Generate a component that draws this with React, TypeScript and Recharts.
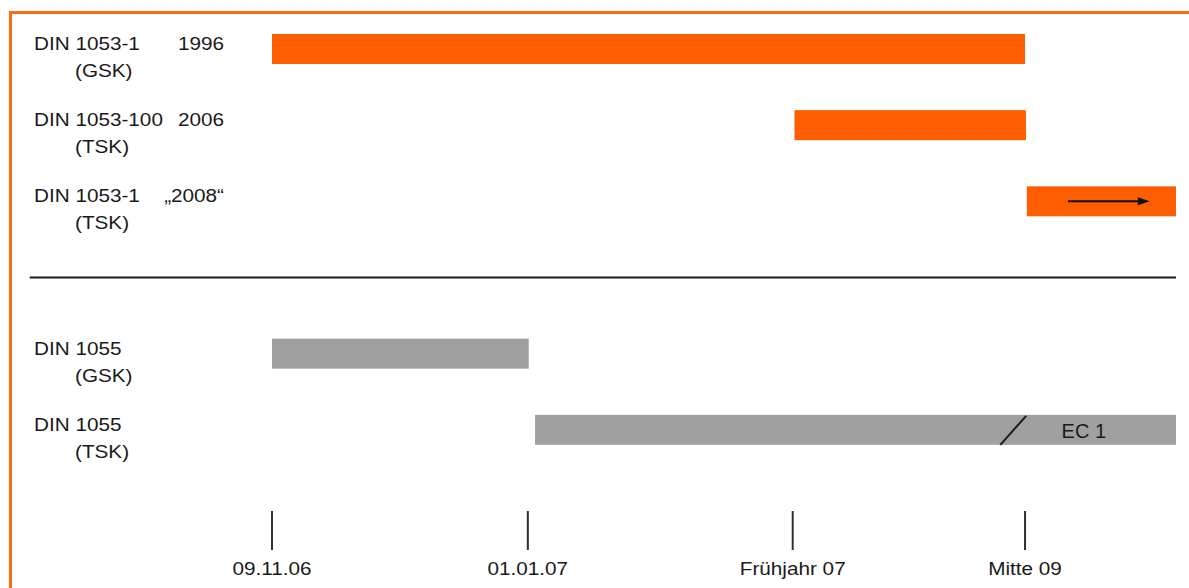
import { ComposedChart, Bar, Cell, XAxis, YAxis, ReferenceLine } from 'recharts';

// Zeitachse in relativen Einheiten (0 = 09.11.06, 100 = rechter Rand)
const ROWS = [
  'DIN 1053-1 (GSK)',
  'DIN 1053-100 (TSK)',
  'DIN 1053-1 (TSK)',
  'trenn',
  'DIN 1055 (GSK)',
  'DIN 1055 (TSK)',
];
const NORM = ['DIN 1053-1', 'DIN 1053-100', 'DIN 1053-1', '', 'DIN 1055', 'DIN 1055'];
const KONZEPT = ['(GSK)', '(TSK)', '(TSK)', '', '(GSK)', '(TSK)'];
const AUSGABE = ['1996', '2006', '\u201E2008\u201C', '', '', ''];
const FAMILIE = ['1053', '1053', '1053', '', '1055', '1055'];
const START = [0, 57.8, 83.5, null, 0, 29.1];
const ENDE = [83.3, 83.4, 100, null, 28.4, 100];

// Markierungen in den Balken
const PFEIL_VON = [null, null, 88.05, null, null, null];
const PFEIL_BIS = [null, null, 97.1, null, null, null];
const BRUCH = [null, null, null, null, null, 82.0];
const BRUCH_TEXT = ['', '', '', '', '', 'EC 1'];
const BRUCH_TEXT_POS = [null, null, null, null, null, 89.8];

const TICK_POS = [0, 28.3, 57.6, 83.3];
const TICK_LABELS = ['09.11.06', '01.01.07', 'Frühjahr 07', 'Mitte 09'];

const TRENN_VON = -26.8;

const COLORS: Record<string, string> = {
  '1053': '#ff5e00',
  '1055': '#a0a0a0',
  frame: '#ff6a14',
  text: '#1a1a1a',
  tick: '#303030',
};

const FONT = '"Liberation Sans", Arial, sans-serif';
const STRETCH = 1.12;

const data = ROWS.map((name, i) => ({
  name,
  range: START[i] == null ? null : [START[i], ENDE[i]],
  familie: FAMILIE[i],
  pfeilVon: PFEIL_VON[i],
  pfeilBis: PFEIL_BIS[i],
  bruch: BRUCH[i],
  bruchText: BRUCH_TEXT[i],
  bruchTextPos: BRUCH_TEXT_POS[i],
}));

function StretchText({ x, y, anchor, children, size = 18.5 }: any) {
  return (
    <g transform={`translate(${x},${y}) scale(${STRETCH},1)`}>
      <text x={0} y={0} textAnchor={anchor} fontSize={size} fontFamily={FONT} fill={COLORS.text}>
        {children}
      </text>
    </g>
  );
}

function RowTick(props: any) {
  const { x, y, payload } = props;
  const i = ROWS.indexOf(payload.value);
  if (i < 0 || !NORM[i]) return null;
  const left = x - 238;
  return (
    <g>
      <StretchText x={left} y={y + 1} anchor="start">{NORM[i]}</StretchText>
      <StretchText x={left + 41} y={y + 28} anchor="start">{KONZEPT[i]}</StretchText>
      {AUSGABE[i] && (
        <StretchText x={left + 190} y={y + 1} anchor="end">{AUSGABE[i]}</StretchText>
      )}
    </g>
  );
}

function TimeTick(props: any) {
  const { x, y, payload } = props;
  const i = TICK_POS.indexOf(payload.value);
  return (
    <g>
      <line x1={x} x2={x} y1={y + 43} y2={y + 82} stroke={COLORS.tick} strokeWidth={2} />
      <StretchText x={x} y={y + 107} anchor="middle">{TICK_LABELS[i]}</StretchText>
    </g>
  );
}

function BalkenShape(props: any) {
  const { x, y, width, height, payload } = props;
  if (!payload || payload.range == null) return null;
  const [s, e] = payload.range;
  const px = (v: number) => x + ((v - s) / (e - s)) * width;
  const cy = y + height / 2;
  return (
    <g>
      <rect x={x} y={y} width={width} height={height} fill={COLORS[payload.familie]} />
      {payload.pfeilVon != null && (
        <g>
          <line x1={px(payload.pfeilVon)} x2={px(payload.pfeilBis) - 8} y1={cy} y2={cy} stroke="#111" strokeWidth={2} />
          <polygon
            points={`${px(payload.pfeilBis)},${cy} ${px(payload.pfeilBis) - 12},${cy - 4} ${px(payload.pfeilBis) - 12},${cy + 4}`}
            fill="#111"
          />
        </g>
      )}
      {payload.bruch != null && (
        <line
          x1={px(payload.bruch) - 13}
          y1={y + height}
          x2={px(payload.bruch) + 13}
          y2={y + 1}
          stroke="#1a1a1a"
          strokeWidth={2}
        />
      )}
      {payload.bruchText && (
        <text
          x={px(payload.bruchTextPos)}
          y={cy + 8}
          textAnchor="middle"
          fontSize={20}
          fontFamily={FONT}
          fill={COLORS.text}
        >
          {payload.bruchText}
        </text>
      )}
    </g>
  );
}

export default function App() {
  return (
    <div style={{ position: 'absolute', left: 0, top: 0, width: 1189, height: 588, overflow: 'hidden', background: '#fff' }}>
      <div
        style={{
          position: 'absolute',
          left: 9,
          top: 11,
          width: 1300,
          height: 700,
          borderTop: `3px solid ${COLORS.frame}`,
          borderLeft: `3px solid ${COLORS.frame}`,
        }}
      />
      <div style={{ position: 'absolute', left: 0, top: 0 }}>
        <ComposedChart
          width={1189}
          height={588}
          data={data}
          layout="vertical"
          margin={{ top: 11, right: 13, left: 10, bottom: 0 }}
        >
          <XAxis
            type="number"
            domain={[0, 100]}
            ticks={TICK_POS}
            tick={<TimeTick />}
            tickLine={false}
            axisLine={false}
            tickSize={0}
            tickMargin={0}
            height={120}
            allowDataOverflow
          />
          <YAxis
            type="category"
            dataKey="name"
            width={262}
            tick={<RowTick />}
            tickLine={false}
            axisLine={false}
            tickSize={0}
            tickMargin={0}
            interval={0}
          />
          <ReferenceLine
            segment={[
              { x: TRENN_VON, y: 'trenn' },
              { x: 100, y: 'trenn' },
            ]}
            ifOverflow="visible"
            stroke="#1a1a1a"
            strokeWidth={2}
          />
          <Bar dataKey="range" barSize={30} isAnimationActive={false} shape={<BalkenShape />}>
            {data.map((d) => (
              <Cell key={d.name} fill={COLORS[d.familie] || 'none'} />
            ))}
          </Bar>
        </ComposedChart>
      </div>
    </div>
  );
}
